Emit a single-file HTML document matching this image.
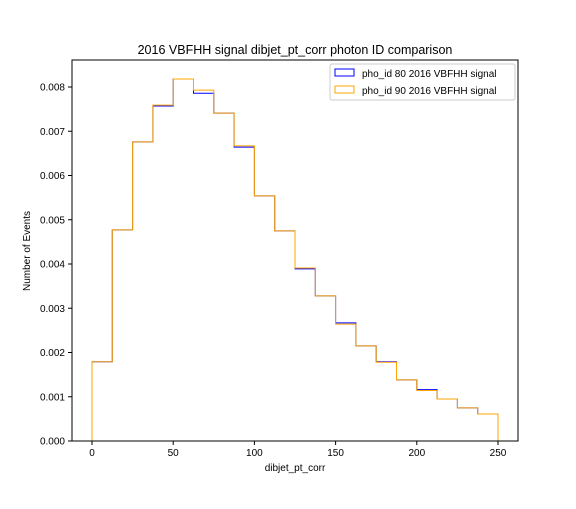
<!DOCTYPE html>
<html><head><meta charset="utf-8"><style>
body{margin:0;background:#fff;font-family:"Liberation Sans","DejaVu Sans",sans-serif}
</style></head><body>
<svg id="chart" width="576" height="504" xmlns="http://www.w3.org/2000/svg" font-family="Liberation Sans, DejaVu Sans, sans-serif">
<rect width="576" height="504" fill="#fff"/>
<text x="295" y="54" font-size="12.5" text-anchor="middle">2016 VBFHH signal dibjet_pt_corr photon ID comparison</text>
<g id="plot"></g>
<rect x="72" y="60" width="446" height="381" fill="none" stroke="#000" stroke-width="1"/>
<text x="295" y="471" font-size="10" text-anchor="middle">dibjet_pt_corr</text>
<text transform="translate(30,251) rotate(-90)" font-size="10" text-anchor="middle">Number of Events</text>
<g>
<rect x="330" y="64" width="185" height="36" fill="#fff" stroke="#ccc" rx="2"/>
<rect x="335" y="69" width="19" height="7" fill="none" stroke="blue"/>
<text x="362" y="77" font-size="10">pho_id 80 2016 VBFHH signal</text>
<rect x="335" y="86" width="19" height="7" fill="none" stroke="orange"/>
<text x="362" y="94" font-size="10">pho_id 90 2016 VBFHH signal</text>
</g>
</svg>
<script>
const binEdges=[0,12.5,25,37.5,50,62.5,75,87.5,100,112.5,125,137.5,150,162.5,175,187.5,200,212.5,225,237.5,250];
const pho80=[0.00179,0.00477,0.00676,0.00757,0.00818,0.00786,0.00741,0.00664,0.00554,0.00475,0.00389,0.00328,0.00267,0.00215,0.00179,0.00138,0.00116,0.00095,0.00075,0.00061];
const pho90=[0.00179,0.00477,0.00676,0.00759,0.00818,0.00793,0.00741,0.00667,0.00554,0.00475,0.00391,0.00328,0.00264,0.00215,0.00178,0.00138,0.00114,0.00095,0.00075,0.00061];
const xTicks=[0,50,100,150,200,250];
const yTicks=[0,0.001,0.002,0.003,0.004,0.005,0.006,0.007,0.008];
const X=v=>92+v*(406/250);
const Y=v=>441-v*44.25*1000;
const NS="http://www.w3.org/2000/svg";
const g=document.getElementById('plot');
function mk(t,a){const e=document.createElementNS(NS,t);for(const k in a)e.setAttribute(k,a[k]);g.appendChild(e);return e;}
function step(vals,color,name){
  let d="M"+X(binEdges[0])+","+Y(0);
  vals.forEach((v,i)=>{d+=" L"+X(binEdges[i])+","+Y(v)+" L"+X(binEdges[i+1])+","+Y(v);});
  d+=" L"+X(binEdges[binEdges.length-1])+","+Y(0);
  const p=mk('path',{d:d,fill:"none",stroke:color,"stroke-width":1});
  
  
}
step(pho80,"blue","pho80-histogram");
step(pho90,"orange","pho90-histogram");
xTicks.forEach(t=>{
  const l=mk('line',{x1:X(t),x2:X(t),y1:441,y2:445,stroke:"#000"});
  
  
  const tx=mk('text',{x:X(t),y:456,"font-size":10,"text-anchor":"middle"});
  tx.textContent=t;
  
  
});
yTicks.forEach(t=>{
  const l=mk('line',{x1:68,x2:72,y1:Y(t),y2:Y(t),stroke:"#000"});
  
  
  const tx=mk('text',{x:65,y:Y(t)+3.5,"font-size":10,"text-anchor":"end"});
  tx.textContent=t.toFixed(3);
  
  
});
</script>
</body></html>
